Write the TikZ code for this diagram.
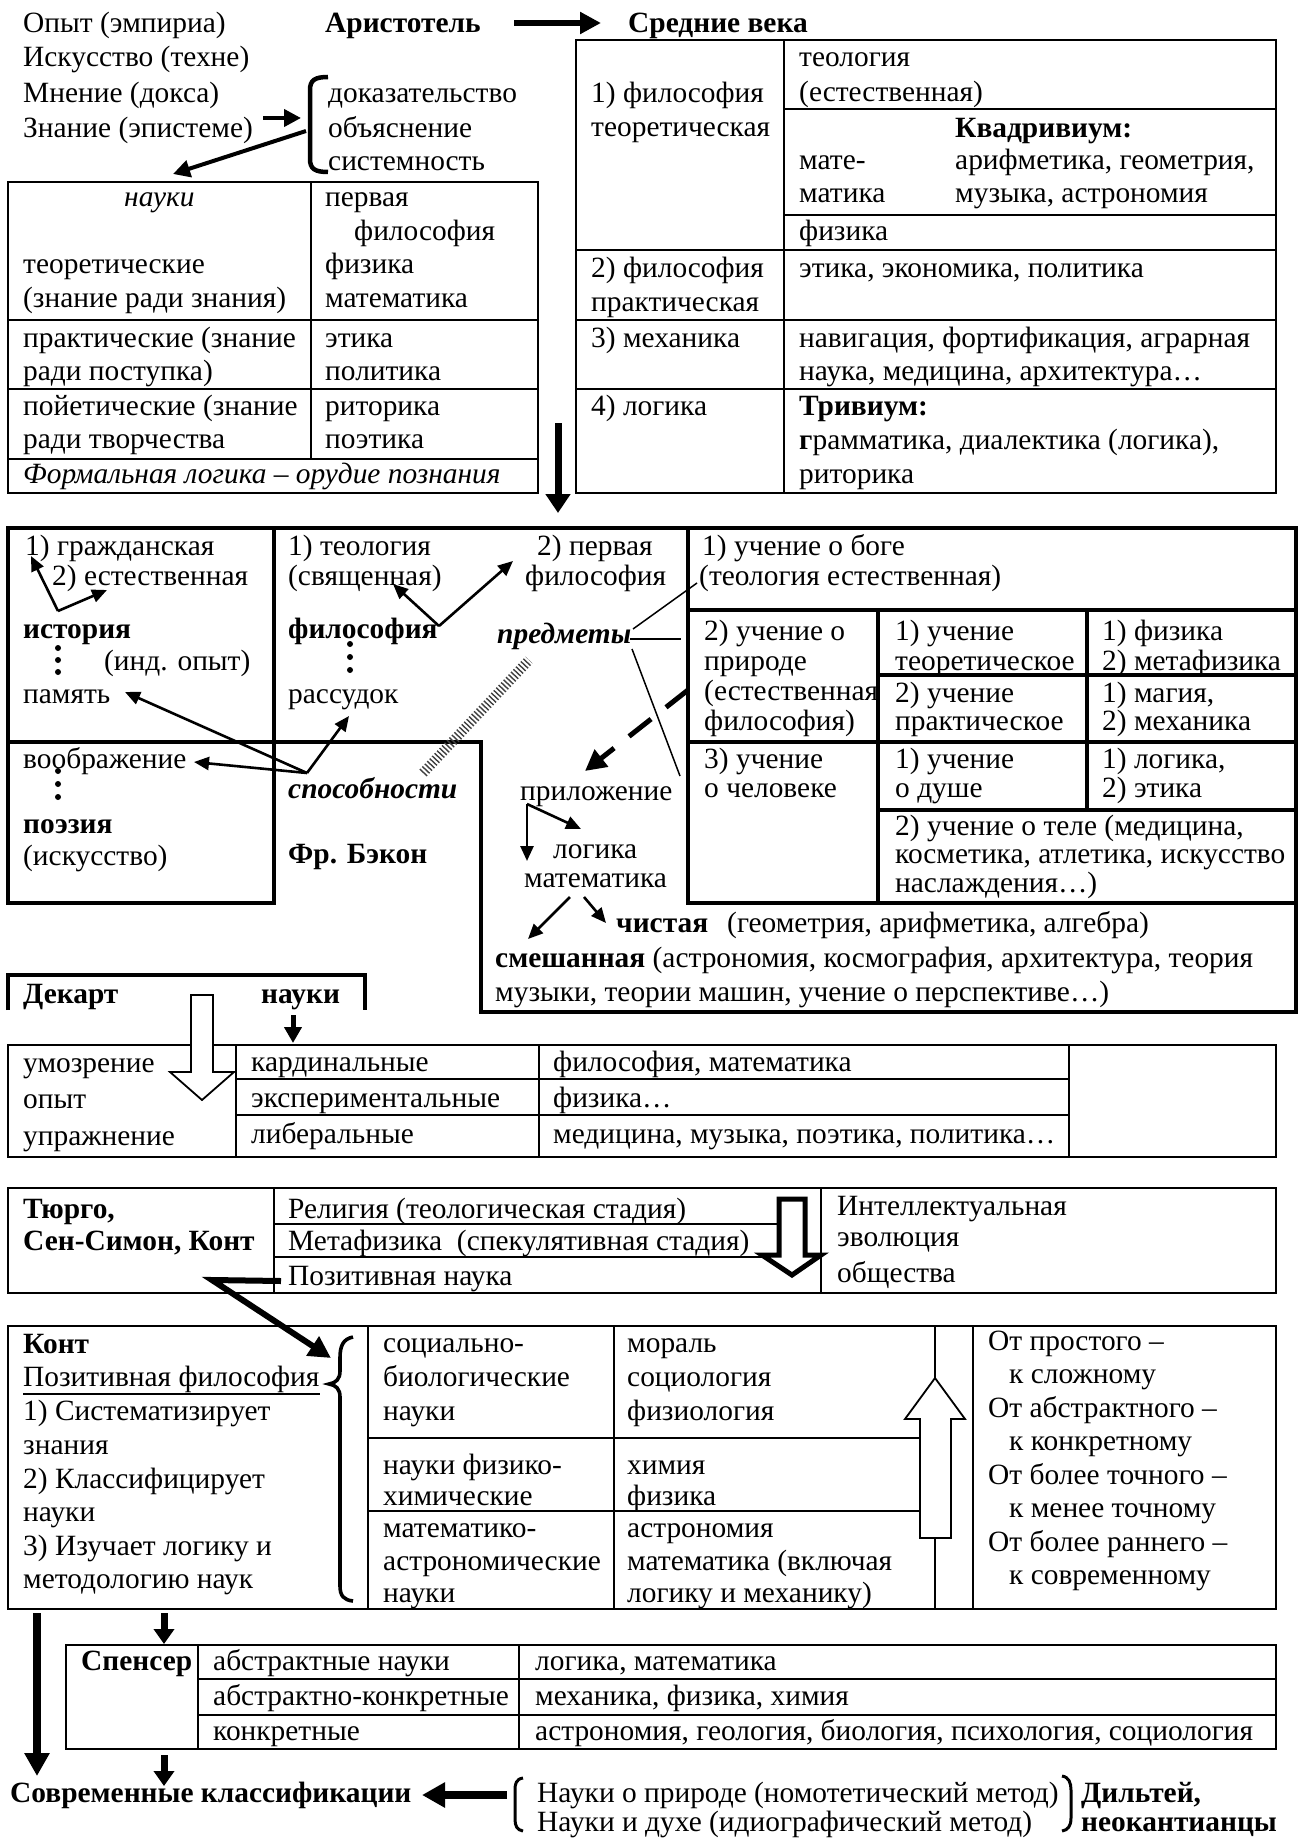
\documentclass[tikz,border=0pt]{standalone}
\usepackage{fontspec}
\setmainfont{Liberation Serif}
\usetikzlibrary{arrows.meta}
% one line of text, placed by its baseline start
\newcommand\lbl[3]{\node[tx] (#1) at (#2) {#3};}
\begin{document}
\begin{tikzpicture}[x=1pt,y=-1pt,
  font=\fontsize{29.4}{34}\selectfont,
  tx/.style={anchor=base west,inner sep=0pt},
  rule/.style={line width=1.8pt,line cap=rect},
  heavy/.style={line width=4.6pt,line cap=rect},
  sarr/.style={line width=2.6pt,-{Triangle[length=15pt,width=13pt]}},
  marr/.style={line width=4pt,-{Triangle[length=17pt,width=17pt]}},
  barr/.style={line width=6pt,-{Triangle[length=21pt,width=21pt]}},
  harr/.style={line width=7.5pt,-{Triangle[length=23pt,width=24pt]}},
  hollow/.style={fill=white,line join=miter},
  thinl/.style={line width=1.5pt},
]
\useasboundingbox (0,0) rectangle (1298,1838);
\fill[white] (0,0) rectangle (1298,1838);

% ---------------- Aristotle ----------------
\lbl{op}{23,33}{Опыт (эмпириа)}
\lbl{isk}{23,67}{Искусство (техне)}
\lbl{mn}{23,103}{Мнение (докса)}
\lbl{zn}{23,138}{Знание (эпистеме)}
\lbl{ar}{325,33}{\textbf{Аристотель}}
\lbl{sv}{628,33}{\textbf{Средние века}}
\lbl{dok}{328,103}{доказательство}
\lbl{obj}{328,138}{объяснение}
\lbl{sys}{328,171}{системность}

\coordinate (arA) at (514,23);
\coordinate (arB) at (601,23);
\draw[barr] (arA) -- (arB);

\draw[line width=4.5pt] (328,77) .. controls (315,77) and (310,80) .. (310,90)
  -- (310,159) .. controls (310,169) and (315,172) .. (328,172);

\coordinate (znA) at (263,118);
\coordinate (znB) at (301,118);
\draw[marr] (znA) -- (znB);
\coordinate (brA) at (306,131);
\coordinate (brB) at (173,174);
\draw[marr] (brA) -- (brB);

\draw[rule] (8,182) rectangle (538,493);
\draw[rule] (311,182) -- (311,459);
\draw[rule] (8,320) -- (538,320) (8,389) -- (538,389) (8,459) -- (538,459);

\lbl{tA0}{124,207}{\textit{науки}}
\lbl{tA1}{325,207}{первая}
\lbl{tA2}{354,240}{философия}
\lbl{tA3}{23,273}{теоретические}
\lbl{tA4}{325,273}{физика}
\lbl{tA5}{23,307}{(знание ради знания)}
\lbl{tA6}{325,307}{математика}
\lbl{tA7}{23,347}{практические (знание}
\lbl{tA8}{325,347}{этика}
\lbl{tA9}{23,380}{ради поступка)}
\lbl{tA10}{325,380}{политика}
\lbl{tA11}{23,415}{пойетические (знание}
\lbl{tA12}{325,415}{риторика}
\lbl{tA13}{23,448}{ради творчества}
\lbl{tA14}{325,448}{поэтика}
\lbl{tA15}{23,483}{\textit{Формальная логика – орудие познания}}

% ---------------- Middle Ages ----------------
\draw[rule] (576,40) rectangle (1276,493);
\draw[rule] (784,40) -- (784,493);
\draw[rule] (784,109) -- (1276,109) (784,215) -- (1276,215);
\draw[rule] (576,250) -- (1276,250) (576,320) -- (1276,320) (576,389) -- (1276,389);

\lbl{mB1}{591,103}{1) философия}
\lbl{mB2}{591,137}{теоретическая}
\lbl{mB3}{799,67}{теология}
\lbl{mB4}{799,102}{(естественная)}
\lbl{mB5}{955,138}{\textbf{Квадривиум:}}
\lbl{mB6}{799,170}{мате-}
\lbl{mB7}{955,170}{арифметика, геометрия,}
\lbl{mB8}{799,203}{матика}
\lbl{mB9}{955,203}{музыка, астрономия}
\lbl{mB10}{799,240}{физика}
\lbl{mB11}{591,277}{2) философия}
\lbl{mB12}{591,311}{практическая}
\lbl{mB13}{799,277}{этика, экономика, политика}
\lbl{mB14}{591,347}{3) механика}
\lbl{mB15}{799,347}{навигация, фортификация, аграрная}
\lbl{mB16}{799,380}{наука, медицина, архитектура…}
\lbl{mB17}{591,415}{4) логика}
\lbl{mB18}{799,415}{\textbf{Тривиум:}}
\lbl{mB19}{799,449}{\textbf{г}рамматика, диалектика (логика),}
\lbl{mB20}{799,483}{риторика}

\coordinate (dnA) at (558,423);
\coordinate (dnB) at (558,513);
\draw[line width=7pt,-{Triangle[length=19pt,width=24pt]}] (dnA) -- (dnB);

% ---------------- Bacon ----------------
\draw[heavy] (8,528) -- (1296,528);
\draw[heavy] (8,528) -- (8,903) -- (274,903) -- (274,528);
\draw[heavy] (8,742) -- (481,742) -- (481,1012) -- (1296,1012) -- (1296,528);
\draw[heavy] (688,528) -- (688,903) -- (1296,903);
\draw[heavy] (688,610) -- (1296,610);
\draw[heavy] (878,610) -- (878,903);
\draw[heavy] (1087,610) -- (1087,810);
\draw[heavy] (878,675) -- (1296,675);
\draw[heavy] (688,742) -- (1296,742);
\draw[heavy] (878,810) -- (1296,810);

\lbl{bc1}{25,555}{1) гражданская}
\lbl{bc2}{52,585}{2) естественная}
\lbl{bc3}{288,555}{1) теология}
\lbl{bc4}{288,585}{(священная)}
\lbl{bc5}{537,555}{2) первая}
\lbl{bc6}{525,585}{философия}
\lbl{bc7}{702,555}{1) учение о боге}
\lbl{bc8}{699,585}{(теология естественная)}
\lbl{bc9}{23,638}{\textbf{история}}
\lbl{bc10}{104,670}{(инд. опыт)}
\lbl{bc11}{23,703}{память}
\lbl{bc12}{288,638}{\textbf{философия}}
\lbl{bc13}{288,703}{рассудок}
\lbl{bc14}{497,643}{\textbf{\textit{предметы}}}
\lbl{bc15}{23,768}{воображение}
\lbl{bc16}{23,833}{\textbf{поэзия}}
\lbl{bc17}{23,865}{(искусство)}
\lbl{bc18}{288,798}{\textbf{\textit{способности}}}
\lbl{bc19}{288,863}{\textbf{Фр. Бэкон}}
\lbl{bc20}{520,800}{приложение}
\lbl{bc21}{553,858}{логика}
\lbl{bc22}{524,887}{математика}
\lbl{bc23}{616,932}{\textbf{чистая}}
\lbl{bc24}{727,932}{(геометрия, арифметика, алгебра)}
\lbl{bc25}{495,967}{\textbf{смешанная} (астрономия, космография, архитектура, теория}
\lbl{bc26}{495,1001}{музыки, теории машин, учение о перспективе…)}

\lbl{g1}{704,640}{2) учение о}
\lbl{g2}{704,670}{природе}
\lbl{g3}{704,700}{(естественная}
\lbl{g4}{704,730}{философия)}
\lbl{g5}{895,640}{1) учение}
\lbl{g6}{895,670}{теоретическое}
\lbl{g7}{1102,640}{1) физика}
\lbl{g8}{1102,670}{2) метафизика}
\lbl{g9}{895,702}{2) учение}
\lbl{g10}{895,730}{практическое}
\lbl{g11}{1102,702}{1) магия,}
\lbl{g12}{1102,730}{2) механика}
\lbl{g13}{704,768}{3) учение}
\lbl{g14}{704,797}{о человеке}
\lbl{g15}{895,768}{1) учение}
\lbl{g16}{895,797}{о душе}
\lbl{g17}{1102,768}{1) логика,}
\lbl{g18}{1102,797}{2) этика}
\lbl{g19}{895,835}{2) учение о теле (медицина,}
\lbl{g20}{895,863}{косметика, атлетика, искусство}
\lbl{g21}{895,892}{наслаждения…)}

% vertical dots
\foreach \yy in {648,660,672} \fill (58,\yy) circle[radius=3pt];
\foreach \yy in {644,657,670} \fill (350,\yy) circle[radius=3pt];
\foreach \yy in {771,784,797} \fill (58,\yy) circle[radius=3pt];

% arrows of the left columns
\coordinate (v1) at (58,611);
\coordinate (v1a) at (31,556);
\coordinate (v1b) at (107,590);
\draw[sarr] (v1) -- (v1a);
\draw[sarr] (v1) -- (v1b);
\coordinate (v2) at (439,626);
\coordinate (v2a) at (393,584);
\coordinate (v2b) at (513,561);
\draw[sarr] (v2) -- (v2a);
\draw[sarr] (v2) -- (v2b);
\coordinate (v3) at (307,773);
\coordinate (v3a) at (125,692);
\coordinate (v3b) at (194,762);
\coordinate (v3c) at (349,716);
\draw[sarr] (v3) -- (v3a);
\draw[sarr] (v3) -- (v3b);
\draw[sarr] (v3) -- (v3c);

% hatched band
\coordinate (hb1) at (423,773);
\coordinate (hb2) at (529,660);
\draw[line width=10pt,dash pattern=on 1.4pt off 2.2pt,black!75] (hb1) -- (hb2);

% lines from "предметы"
\coordinate (pm1) at (630,639);
\coordinate (pm1b) at (681,639);
\coordinate (pm2) at (633,629);
\coordinate (pm2b) at (697,583);
\coordinate (pm3) at (632,649);
\coordinate (pm3b) at (680,776);
\draw[thinl] (pm1) -- (pm1b);
\draw[thinl] (pm2) -- (pm2b);
\draw[thinl] (pm3) -- (pm3b);

% dashed arrow to "приложение"
\coordinate (da0) at (688,690);
\coordinate (da1) at (585,771);
\draw[line width=5pt,dash pattern=on 28pt off 19pt,-{Triangle[length=21pt,width=21pt]}] (da0) -- (da1);

\coordinate (pr0) at (527,804);
\coordinate (pr1) at (527,861);
\coordinate (pr2) at (581,829);
\draw[sarr] (pr0) -- (pr1);
\draw[sarr] (pr0) -- (pr2);
\coordinate (ma0) at (570,897);
\coordinate (ma1) at (528,939);
\coordinate (mb0) at (584,897);
\coordinate (mb1) at (606,923);
\draw[sarr] (ma0) -- (ma1);
\draw[sarr] (mb0) -- (mb1);

% ---------------- Descartes ----------------
\draw[heavy,line cap=butt] (8,1010) -- (8,975) -- (365,975) -- (365,1010);
\lbl{dc1}{23,1003}{\textbf{Декарт}}
\lbl{dc2}{261,1003}{\textbf{науки}}

\draw[rule] (8,1045) rectangle (1276,1157);
\draw[rule] (236,1045) -- (236,1157);
\draw[rule] (539,1045) -- (539,1157);
\draw[rule] (1069,1045) -- (1069,1157);
\draw[rule] (236,1079) -- (1069,1079) (236,1115) -- (1069,1115);

\draw[line width=1.8pt,hollow] (191,995) -- (213,995) -- (213,1072) -- (234,1072)
  -- (202,1100) -- (170,1072) -- (191,1072) -- cycle;
\coordinate (ns0) at (293,1015);
\coordinate (ns1) at (293,1043);
\draw[line width=5pt,-{Triangle[length=16pt,width=17pt]}] (ns0) -- (ns1);

\lbl{dt1}{23,1072}{умозрение}
\lbl{dt2}{23,1108}{опыт}
\lbl{dt3}{23,1145}{упражнение}
\lbl{dt4}{251,1071}{кардинальные}
\lbl{dt5}{251,1107}{экспериментальные}
\lbl{dt6}{251,1143}{либеральные}
\lbl{dt7}{553,1071}{философия, математика}
\lbl{dt8}{553,1107}{физика…}
\lbl{dt9}{553,1143}{медицина, музыка, поэтика, политика…}

% ---------------- Turgot, Saint-Simon, Comte ----------------
\draw[rule] (8,1188) rectangle (1276,1293);
\draw[rule] (274,1188) -- (274,1293);
\draw[rule] (821,1188) -- (821,1293);
\draw[rule] (274,1224) -- (779,1224);
\draw[rule] (274,1257) -- (762,1257);
\draw[line width=5pt,hollow] (779,1199) -- (805,1199) -- (805,1255) -- (821,1255)
  -- (792,1275) -- (762,1255) -- (779,1255) -- cycle;

\lbl{tu1}{23,1218}{\textbf{Тюрго,}}
\lbl{tu2}{23,1250}{\textbf{Сен-Симон, Конт}}
\lbl{tu3}{288,1218}{Религия (теологическая стадия)}
\lbl{tu4}{288,1250}{Метафизика\ \ (спекулятивная стадия)}
\lbl{tu5}{288,1285}{Позитивная наука}
\lbl{tu6}{837,1215}{Интеллектуальная}
\lbl{tu7}{837,1246}{эволюция}
\lbl{tu8}{837,1282}{общества}

\coordinate (pz0) at (281,1281);
\coordinate (pz1) at (212,1280);
\coordinate (pz2) at (331,1358);
\draw[line width=6pt,line join=miter,-{Triangle[length=22pt,width=22pt]}] (pz0) -- (pz1) -- (pz2);

% ---------------- Comte ----------------
\draw[rule] (8,1326) rectangle (1276,1609);
\draw[rule] (368,1326) -- (368,1609);
\draw[rule] (614,1326) -- (614,1609);
\draw[rule] (935,1326) -- (935,1609);
\draw[rule] (973,1326) -- (973,1609);
\draw[rule] (368,1438) -- (920,1438) (368,1511) -- (920,1511);
\draw[rule,line cap=butt,hollow] (920,1538) -- (920,1419) -- (905,1419) -- (935,1378)
  -- (965,1419) -- (951,1419) -- (951,1538) -- cycle;

\draw[line width=3.6pt] (353,1337) .. controls (343,1339) and (340,1346) .. (340,1358)
  -- (340,1371) .. controls (340,1379) and (336,1383) .. (329,1384)
  .. controls (336,1385) and (340,1389) .. (340,1397)
  -- (340,1586) .. controls (340,1596) and (344,1600) .. (353,1601);

\lbl{ko1}{23,1353}{\textbf{Конт}}
\lbl{ko2}{23,1386}{Позитивная философия}
\draw[line width=1.5pt] ([yshift=-1.5pt]ko2.south west) -- ([yshift=-1.5pt]ko2.south east);
\lbl{ko3}{23,1420}{1) Систематизирует}
\lbl{ko4}{23,1454}{знания}
\lbl{ko5}{23,1488}{2) Классифицирует}
\lbl{ko6}{23,1521}{науки}
\lbl{ko7}{23,1555}{3) Изучает логику и}
\lbl{ko8}{23,1588}{методологию наук}

\lbl{kc1}{383,1352}{социально-}
\lbl{kc2}{383,1386}{биологические}
\lbl{kc3}{383,1420}{науки}
\lbl{kc4}{383,1474}{науки физико-}
\lbl{kc5}{383,1505}{химические}
\lbl{kc6}{383,1537}{математико-}
\lbl{kc7}{383,1570}{астрономические}
\lbl{kc8}{383,1602}{науки}
\lbl{kd1}{627,1352}{мораль}
\lbl{kd2}{627,1386}{социология}
\lbl{kd3}{627,1420}{физиология}
\lbl{kd4}{627,1474}{химия}
\lbl{kd5}{627,1505}{физика}
\lbl{kd6}{627,1537}{астрономия}
\lbl{kd7}{627,1570}{математика (включая}
\lbl{kd8}{627,1602}{логику и механику)}

\lbl{ke1}{988,1350}{От простого –}
\lbl{ke2}{1009,1383}{к сложному}
\lbl{ke3}{988,1417}{От абстрактного –}
\lbl{ke4}{1009,1450}{к конкретному}
\lbl{ke5}{988,1484}{От более точного –}
\lbl{ke6}{1009,1517}{к менее точному}
\lbl{ke7}{988,1551}{От более раннего –}
\lbl{ke8}{1009,1584}{к современному}

% ---------------- Spencer ----------------
\coordinate (la0) at (37,1613);
\coordinate (la1) at (37,1776);
\draw[harr] (la0) -- (la1);
\coordinate (sa0) at (164,1613);
\coordinate (sa1) at (164,1644);
\draw[line width=7pt,-{Triangle[length=15pt,width=20pt]}] (sa0) -- (sa1);

\draw[line width=2.6pt] (66,1645) rectangle (1276,1749);
\draw[rule] (198,1645) -- (198,1749);
\draw[rule] (519,1645) -- (519,1749);
\draw[rule] (198,1679) -- (1276,1679) (198,1715) -- (1276,1715);

\lbl{sp1}{81,1670}{\textbf{Спенсер}}
\lbl{sp2}{213,1670}{абстрактные науки}
\lbl{sp3}{213,1705}{абстрактно-конкретные}
\lbl{sp4}{213,1740}{конкретные}
\lbl{sp5}{535,1670}{логика, математика}
\lbl{sp6}{535,1705}{механика, физика, химия}
\lbl{sp7}{535,1740}{астрономия, геология, биология, психология, социология}

\coordinate (sb0) at (164,1755);
\coordinate (sb1) at (164,1786);
\draw[line width=7pt,-{Triangle[length=15pt,width=20pt]}] (sb0) -- (sb1);

\lbl{sk}{10,1802}{\textbf{Современные классификации}}
\coordinate (lf0) at (507,1795);
\coordinate (lf1) at (422,1795);
\draw[harr] (lf0) -- (lf1);

\draw[line width=3pt] (523,1778) .. controls (516,1779) and (515,1784) .. (515,1790)
  -- (515,1819) .. controls (515,1826) and (517,1830) .. (523,1831);
\draw[line width=3pt] (1062,1776) .. controls (1069,1777) and (1071,1783) .. (1071,1790)
  -- (1071,1818) .. controls (1071,1826) and (1068,1830) .. (1062,1831);

\lbl{dl1}{537,1802}{Науки о природе (номотетический метод)}
\lbl{dl2}{537,1831}{Науки и духе (идиографический метод)}
\lbl{dl3}{1081,1802}{\textbf{Дильтей,}}
\lbl{dl4}{1081,1831}{\textbf{неокантианцы}}
\end{tikzpicture}
\end{document}
